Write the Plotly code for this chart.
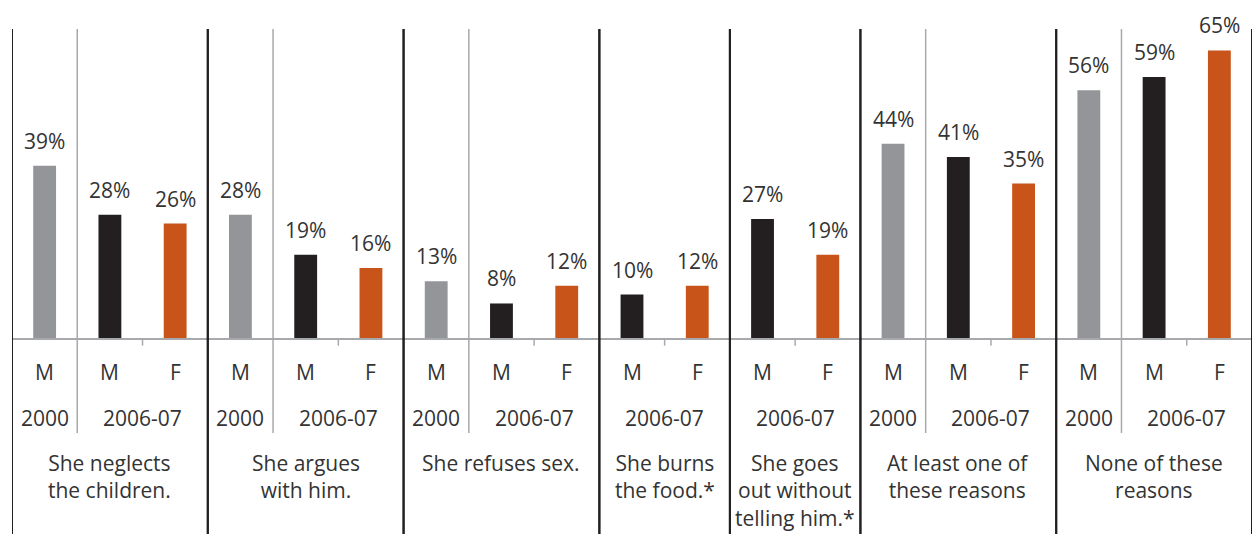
import plotly.graph_objects as go

# Share of respondents agreeing that a husband is justified in beating his wife, by reason
categories = [
    "She neglects<br>the children.",
    "She argues<br>with him.",
    "She refuses sex.",
    "She burns<br>the food.*",
    "She goes<br>out without<br>telling him.*",
    "At least one of<br>these reasons",
    "None of these<br>reasons",
]
men_2000 = [39, 28, 13, None, None, 44, 56]
men_2006 = [28, 19, 8, 10, 27, 41, 59]
women_2006 = [26, 16, 12, 12, 19, 35, 65]
sex_labels = ["M", "M", "F"]
year_labels = ["2000", "2006-07"]

GRAY = "#939598"
BLACK = "#231f20"
ORANGE = "#c8541a"
TEXT = "#333333"
RULE_DARK = "#231f20"
RULE_LIGHT = "#a7a9ac"
FONT = "Open Sans"
FS = 21

# assign each bar a slot on a numeric x axis
bars = {"2000": ([], []), "M": ([], []), "F": ([], [])}
panels = []  # (start_slot, n_slots, has_2000, label)
slot = 0
for i, cat in enumerate(categories):
    has_2000 = men_2000[i] is not None
    start = slot
    if has_2000:
        bars["2000"][0].append(slot)
        bars["2000"][1].append(men_2000[i])
        slot += 1
    bars["M"][0].append(slot)
    bars["M"][1].append(men_2006[i])
    slot += 1
    bars["F"][0].append(slot)
    bars["F"][1].append(women_2006[i])
    slot += 1
    panels.append((start, slot - start, has_2000, cat))

n_slots = slot
fig = go.Figure()
annotations = []
for key, color in (("2000", GRAY), ("M", BLACK), ("F", ORANGE)):
    xs, ys = bars[key]
    fig.add_trace(go.Bar(
        x=xs, y=ys, width=0.35, marker=dict(color=color, line=dict(width=0)),
        showlegend=False, hoverinfo="skip",
    ))
    # value labels above each bar
    for x, v in zip(xs, ys):
        annotations.append(dict(x=x, y=v, text=f"{v}%", showarrow=False,
                                xanchor="center", yanchor="bottom", yshift=9))

shapes = []
Y_TOP = 69.8
Y_BOTTOM = -43.92
Y_GRAY_END = -21.2
Y_SEX = -7.4
Y_YEAR = -17.8
Y_CAT = -24.3

# baseline
shapes.append(dict(type="line", xref="x", yref="y", x0=-0.5, x1=n_slots - 0.5, y0=0, y1=0,
                   line=dict(color=RULE_LIGHT, width=2)))
for start, n, has_2000, cat in panels:
    # panel borders
    for xb in (start - 0.5, start + n - 0.5):
        shapes.append(dict(type="line", xref="x", yref="y", x0=xb, x1=xb, y0=Y_TOP, y1=Y_BOTTOM,
                           line=dict(color=RULE_DARK, width=2)))
    first_2006 = start + (1 if has_2000 else 0)
    if has_2000:
        shapes.append(dict(type="line", xref="x", yref="y", x0=start + 0.5, x1=start + 0.5,
                           y0=Y_TOP, y1=Y_GRAY_END, line=dict(color=RULE_LIGHT, width=1.5)))
    # tick between M and F
    shapes.append(dict(type="line", xref="x", yref="y", x0=first_2006 + 0.5, x1=first_2006 + 0.5,
                       y0=0, y1=-1.5, line=dict(color=RULE_LIGHT, width=1.5)))
    # sex labels
    sexes = sex_labels if has_2000 else sex_labels[1:]
    for k, s in enumerate(sexes):
        annotations.append(dict(x=start + k, y=Y_SEX, text=s, showarrow=False,
                                xanchor="center", yanchor="middle"))
    # year labels
    if has_2000:
        annotations.append(dict(x=start, y=Y_YEAR, text=year_labels[0], showarrow=False,
                                xanchor="center", yanchor="middle"))
    annotations.append(dict(x=first_2006 + 0.5, y=Y_YEAR, text=year_labels[1], showarrow=False,
                            xanchor="center", yanchor="middle"))
    # category label
    annotations.append(dict(x=start + (n - 1) / 2, y=Y_CAT, text=cat, showarrow=False,
                            xanchor="center", yanchor="top"))

for a in annotations:
    a.update(xref="x", yref="y", font=dict(family=FONT, size=FS, color=TEXT))

fig.update_layout(
    width=1254, height=534,
    margin=dict(l=12, r=2, t=0, b=0),
    paper_bgcolor="white", plot_bgcolor="white",
    barmode="overlay",
    xaxis=dict(range=[-0.5, n_slots - 0.5], visible=False, fixedrange=True),
    yaxis=dict(range=[Y_BOTTOM, 76.35], visible=False, fixedrange=True),
    shapes=shapes, annotations=annotations,
)
fig.write_html("out.html")
